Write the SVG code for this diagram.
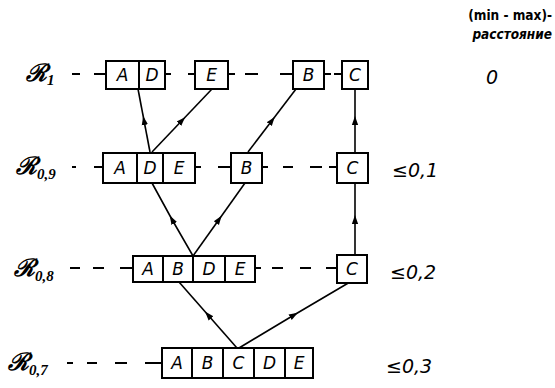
<svg xmlns="http://www.w3.org/2000/svg" width="555" height="388" viewBox="0 0 555 388">
<defs>
<marker id="ah" viewBox="0 0 10 10" refX="5" refY="5" markerWidth="9" markerHeight="9" orient="auto" markerUnits="userSpaceOnUse">
<path d="M0,1.5 L10,5 L0,8.5 z" fill="#000"/>
</marker>
<style>
.b{fill:#fff;stroke:#000;stroke-width:2}
.t{font-family:"DejaVu Sans","Liberation Sans",sans-serif;font-style:italic;font-size:17px;text-anchor:middle;fill:#000}
.d{stroke:#000;stroke-width:2;fill:none}
.c{stroke:#000;stroke-width:1.6;fill:none;marker-mid:url(#ah)}
.l{font-family:"Liberation Serif",serif;font-style:italic;font-weight:bold;font-size:24px;fill:#000}
.s{font-family:"Liberation Serif",serif;font-style:italic;font-weight:bold;font-size:15px;fill:#000}
.v{font-family:"DejaVu Sans","Liberation Sans",sans-serif;font-style:italic;font-size:19px;fill:#000}
.h{font-family:"DejaVu Sans Condensed","DejaVu Sans",sans-serif;font-weight:bold;font-size:13.5px;fill:#000;text-anchor:end}
</style>
</defs>

<g id="header">
<text class="h" x="552" y="20">(min - max)-</text>
<text class="h" x="552" y="39" font-style="italic">расстояние</text>
</g>

<g id="labels">
<text class="l" x="26" y="81">ℛ<tspan class="s" dy="4">1</tspan></text>
<text class="l" x="16" y="174">ℛ<tspan class="s" dy="5">0,9</tspan></text>
<text class="l" x="14" y="276">ℛ<tspan class="s" dy="5">0,8</tspan></text>
<text class="l" x="8" y="370">ℛ<tspan class="s" dy="5">0,7</tspan></text>
</g>

<g id="values">
<text class="v" x="486" y="84">0</text>
<text class="v" x="392" y="177">≤0,1</text>
<text class="v" x="390" y="279">≤0,2</text>
<text class="v" x="386" y="373">≤0,3</text>
</g>

<g id="connectors">
<path class="d" d="M72,74 H80 M94,74 H106 M165,74 H171 M188,74 H195 M228,74 H235 M245,74 H258 M280,74 H293 M324,74 H331 M334,74 H342"/>
<path class="d" d="M72,167 H76 M94,167 H103 M195,167 H201 M218,167 H231 M262,167 H268 M283,167 H293 M310,167 H322 M329,167 H337"/>
<path class="d" d="M70,268 H80 M93,268 H104 M120,268 H133 M255,268 H261 M272,268 H283 M300,268 H311 M326,268 H337"/>
<path class="d" d="M67,363 H73 M87,363 H97 M115,363 H127 M145,363 H162"/>
<path class="c" d="M150,152 L144,120.5 L138,89"/>
<path class="c" d="M152,152 L182,120.5 L212,89"/>
<path class="c" d="M248,152 L272,120.5 L296,89"/>
<path class="c" d="M355,152 L355,120.5 L355,89"/>
<path class="c" d="M193,256 L172,219.5 L152,183"/>
<path class="c" d="M193,256 L219,219.5 L245,183"/>
<path class="c" d="M355,256 L355,219.5 L355,183"/>
<path class="c" d="M237,348 L208,315 L179,282"/>
<path class="c" d="M239,348 L294,315 L350,282"/>
</g>

<g id="row1">
<g id="r1-AD">
<rect class="b" x="106" y="61" width="59" height="28"/>
<line class="d" x1="139" y1="61" x2="139" y2="89"/>
<text class="t" x="122.5" y="81">A</text>
<text class="t" x="152" y="81">D</text>
</g>
<g id="r1-E"><rect class="b" x="195" y="61" width="33" height="28"/><text class="t" x="211.5" y="81">E</text></g>
<g id="r1-B"><rect class="b" x="293" y="61" width="31" height="28"/><text class="t" x="308.5" y="81">B</text></g>
<g id="r1-C"><rect class="b" x="342" y="61" width="26" height="28"/><text class="t" x="355" y="81">C</text></g>
</g>

<g id="row09">
<g id="r09-ADE">
<rect class="b" x="103" y="153" width="92" height="30"/>
<line class="d" x1="137" y1="153" x2="137" y2="183"/>
<line class="d" x1="163" y1="153" x2="163" y2="183"/>
<text class="t" x="120" y="174">A</text>
<text class="t" x="150" y="174">D</text>
<text class="t" x="179" y="174">E</text>
</g>
<g id="r09-B"><rect class="b" x="231" y="153" width="31" height="30"/><text class="t" x="246.5" y="174">B</text></g>
<g id="r09-C"><rect class="b" x="337" y="153" width="31" height="30"/><text class="t" x="352.5" y="174">C</text></g>
</g>

<g id="row08">
<g id="r08-ABDE">
<rect class="b" x="133" y="256" width="122" height="26"/>
<line class="d" x1="163" y1="256" x2="163" y2="282"/>
<line class="d" x1="193" y1="256" x2="193" y2="282"/>
<line class="d" x1="225" y1="256" x2="225" y2="282"/>
<text class="t" x="148" y="275">A</text>
<text class="t" x="178" y="275">B</text>
<text class="t" x="209" y="275">D</text>
<text class="t" x="240" y="275">E</text>
</g>
<g id="r08-C"><rect class="b" x="337" y="255" width="30" height="28"/><text class="t" x="352" y="275">C</text></g>
</g>

<g id="row07">
<g id="r07-ABCDE">
<rect class="b" x="162" y="348" width="151" height="30"/>
<line class="d" x1="192" y1="348" x2="192" y2="378"/>
<line class="d" x1="223" y1="348" x2="223" y2="378"/>
<line class="d" x1="254" y1="348" x2="254" y2="378"/>
<line class="d" x1="285" y1="348" x2="285" y2="378"/>
<text class="t" x="177" y="369">A</text>
<text class="t" x="207.5" y="369">B</text>
<text class="t" x="238.5" y="369">C</text>
<text class="t" x="269.5" y="369">D</text>
<text class="t" x="299" y="369">E</text>
</g>
</g>
</svg>
